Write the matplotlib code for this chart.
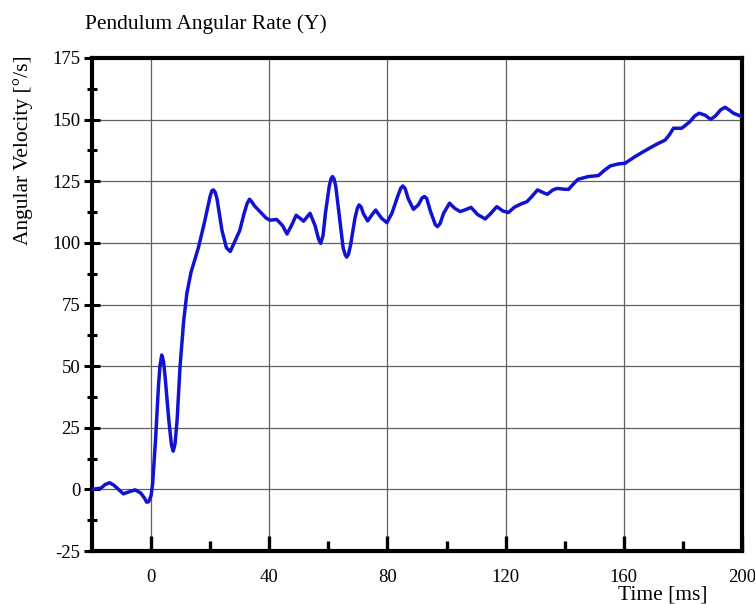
import numpy as np
import matplotlib
matplotlib.use("Agg")
import matplotlib.pyplot as plt
from matplotlib.ticker import MultipleLocator, FixedLocator

plt.rcParams["font.family"] = ["Liberation Serif", "DejaVu Serif"]
plt.rcParams["axes.unicode_minus"] = False

# values (time [ms], angular rate [deg/s])
time_ms = [
    -20, -17, -15.5, -14, -12.5, -11.5, -9.4, -7.5, -5.4, -3.5, -2.2, -1.5, -0.8,
    0.0, 0.5, 1.5, 2.5, 3.0, 3.6, 4.2, 4.8, 6, 6.9, 7.5, 8.1, 8.8, 9.8, 11,
    12.1, 13.5, 16, 18, 20, 20.6, 21.1, 21.7, 22.3, 24, 25.5, 26.8,
    28.5, 30, 31.5, 32.5, 33.3, 34, 35, 37, 39, 40.3, 42.5, 44.5,
    46, 47.5, 49.1, 50.4, 51.6, 53.8, 55.5, 56.7, 57.4, 58.2, 59, 60.3,
    60.9, 61.4, 61.9, 62.5, 64, 65, 65.7, 66.2, 66.8, 67.5, 69, 69.8, 70.4, 71.1, 71.8, 73.3,
    74.8, 76, 78, 79.8, 81.5, 83.5, 84.5, 85.2, 86, 87, 88.8, 90.5,
    91.7, 92.5, 93.3, 94.5, 96.2, 96.9, 97.8, 99, 101, 102.8, 104.6, 106.5, 108.3, 110.5,
    113.1, 115, 117, 119, 120.9, 123, 125.2, 127.2, 129, 130.8,
    132.5, 134.1, 136, 137.5, 139.5, 141.3, 143, 144.5, 148, 151.4,
    153.5, 155.4, 158, 160.4, 163.8, 167.2, 170.6, 174, 175.5, 176.8,
    179.6, 182.4, 184, 185.5, 187.5, 189.4, 191, 192.8, 194.3, 195.8,
    197.1, 200,
]
rate_dps = [
    0.0, 0.5, 2.0, 2.7, 1.6, 0.5, -1.8, -1.0, -0.2, -1.5, -3.6, -5.2, -5.0,
    -2.5, 2, 20, 42, 50, 54.5, 52, 45, 28, 18, 15.5, 18.5, 28, 49.8, 68,
    79.5, 88, 98, 108, 119, 121.2, 121.5, 120.5, 118, 105, 98, 96.5,
    101, 105, 112, 116, 117.7, 116.8, 115, 112.5, 110, 109.2, 109.5, 107,
    103.6, 107, 111.2, 110, 108.8, 112, 107, 101.5, 99.8, 103, 112, 123,
    126, 126.9, 126, 123, 108, 98, 95.2, 94.2, 95.3, 99, 110, 114, 115.4, 114.5, 112, 108.9,
    111.5, 113.3, 110, 108.2, 112, 119, 122.2, 123.1, 122, 118, 113.6, 115.5,
    118.2, 118.8, 118, 113, 107.4, 106.6, 107.8, 112, 116.1, 114, 112.7, 113.5, 114.4, 111.5,
    109.7, 112, 114.7, 113, 112.3, 114.5, 115.8, 116.7, 119, 121.5,
    120.5, 119.7, 121.5, 122.1, 121.8, 121.7, 124, 125.8, 126.9, 127.3,
    129.5, 131.2, 132, 132.3, 135.0, 137.4, 139.7, 141.7, 144, 146.5,
    146.5, 149.2, 151.5, 152.6, 151.8, 150.1, 151.5, 154, 155.0, 153.8,
    152.6, 151.2,
]

x_major = [0, 40, 80, 120, 160, 200]
x_minor = [20, 60, 100, 140, 180]
y_major = [-25, 0, 25, 50, 75, 100, 125, 150, 175]

fig = plt.figure(figsize=(7.55, 6.04), dpi=100)
ax = fig.add_axes([92 / 755, 1 - 551 / 604, 650 / 755, 493 / 604])

ax.plot(time_ms, rate_dps, color="#1212d2", lw=2.5,
        solid_joinstyle="round", solid_capstyle="round", zorder=3)

ax.set_xlim(-20, 200)
ax.set_ylim(-25, 175)
ax.xaxis.set_major_locator(FixedLocator(x_major))
ax.xaxis.set_minor_locator(FixedLocator(x_minor))
ax.yaxis.set_major_locator(FixedLocator(y_major))
ax.yaxis.set_minor_locator(MultipleLocator(12.5))

ax.grid(True, which="major", color="#606060", lw=0.9)
ax.set_axisbelow(True)

for s in ax.spines.values():
    s.set_linewidth(3.0)
    s.set_color("black")

ax.tick_params(axis="x", which="major", direction="in", length=11, width=2.4,
               pad=13, labelsize=13.5)
ax.tick_params(axis="x", which="minor", direction="in", length=7, width=2.4)
ax.tick_params(axis="y", which="major", direction="inout", length=12, width=2.2,
               pad=2.5, labelsize=13.5)
ax.tick_params(axis="y", which="minor", direction="inout", length=6.5, width=2.2)

fig.text(85 / 755, 1 - 29 / 604, "Pendulum Angular Rate (Y)", fontsize=15.5,
         ha="left", va="baseline")
fig.text(23 / 755, 1 - 150 / 604, "Angular Velocity [°/s]", fontsize=15.5,
         rotation=90, ha="center", va="center")
fig.text(663 / 755, 1 - 599.5 / 604, "Time [ms]", fontsize=15.5,
         ha="center", va="baseline")

fig.savefig("out.png", dpi=100)
